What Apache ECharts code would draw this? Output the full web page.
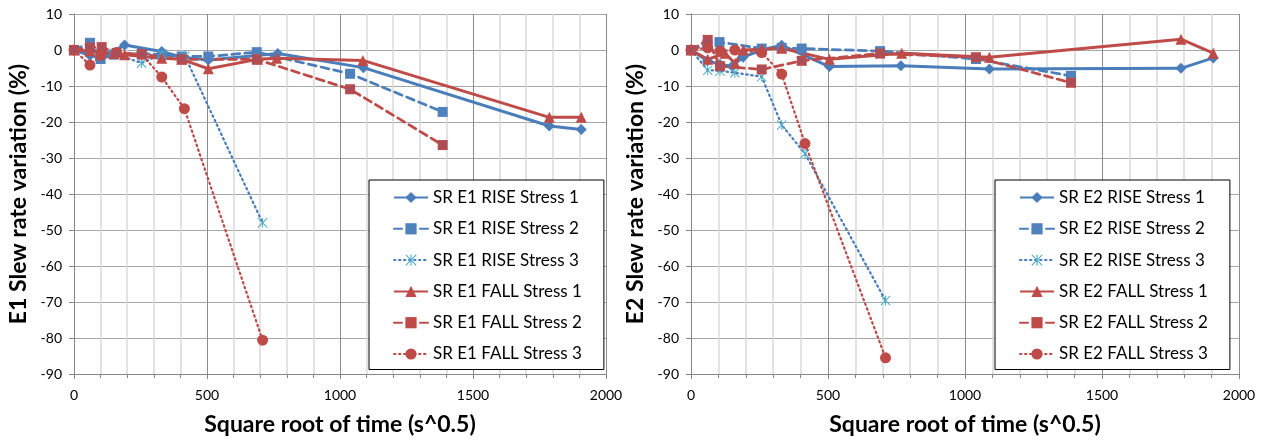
<!DOCTYPE html>
<html>
<head>
<meta charset="utf-8">
<script src="https://cdn.jsdelivr.net/npm/echarts@6/dist/echarts.min.js"></script>
<style>
  html, body { margin: 0; padding: 0; background: #fff; }
  #chart { width: 1265px; height: 441px; }
</style>
</head>
<body>
<div id="chart"></div>
<script>
// E1 (left chart) - [sqrt time, variation %]
const e1Rise1 = [[0, 0], [60, -1.5], [100, -2.2], [190, 1.4], [330, -0.4], [405, -2], [505, -2.8], [766, -1], [1088, -4.9], [1787, -21.1], [1907, -22.1]];
const e1Rise2 = [[0, 0], [60, 2], [100, -2.5], [150, -1.3], [255, -1], [330, -1.3], [405, -1.8], [505, -1.8], [687, -0.6], [1038, -6.6], [1386, -17.2]];
const e1Rise3 = [[0, 0], [60, -0.5], [100, -1], [150, -1], [254, -3.6], [330, -1.2], [417, -1.7], [709, -48]];
const e1Fall1 = [[0, 0], [60, -0.3], [100, -0.5], [150, -1], [190, -1.3], [330, -2.3], [405, -2.6], [505, -5.2], [690, -2.6], [762, -2.3], [1086, -2.9], [1787, -18.7], [1907, -18.7]];
const e1Fall2 = [[0, 0], [60, 0.7], [104, 0.8], [160, -0.8], [255, -1.2], [405, -2.6], [687, -2.6], [1038, -10.9], [1386, -26.4]];
const e1Fall3 = [[0, 0], [60, -4.2], [100, -1.5], [160, -0.7], [254, -1.2], [330, -7.5], [415, -16.3], [709, -80.6]];

// E2 (right chart)
const e2Rise1 = [[0, 0], [60, -3], [106, -4], [150, -4.5], [190, -2], [258, 0], [331, 1.3], [505, -4.6], [766, -4.4], [1089, -5.3], [1788, -5.1], [1906, -2.2]];
const e2Rise2 = [[0, 0], [60, 1.5], [104, 2.2], [258, 0.4], [331, 0.6], [404, 0.4], [690, -0.3], [1040, -2.5], [1387, -7.2]];
const e2Rise3 = [[0, 0], [61, -5.6], [106, -5.8], [160, -6.3], [258, -7.4], [331, -20.8], [416, -28.8], [710, -69.6]];
const e2Fall1 = [[0, 0], [61, -2.6], [124, -0.9], [161, -3.7], [191, 0], [258, 0.2], [331, 0.5], [505, -2.6], [769, -0.9], [1089, -2], [1788, 3], [1906, -0.9]];
const e2Fall2 = [[0, 0], [61, 2.8], [106, -4.5], [258, -5.4], [404, -3], [690, -1], [1040, -2], [1387, -9.1]];
const e2Fall3 = [[0, 0], [61, 0.6], [106, -0.3], [160, 0], [258, -0.7], [331, -6.7], [416, -26], [710, -85.5]];

const yTitles = ['E1 Slew rate variation (%)', 'E2 Slew rate variation (%)'];
const xTitle = 'Square root of time (s^0.5)';

const BLUE = '#4a7ebb';
const BLUE_MK = '#4f81bd';
const CYAN = '#4bacc6';
const RED = '#be4b48';
const FONT = 'Lato';

const STAR = 'path://M9,0L11,0L11,20L9,20Z M1.4,0L20,18.6L18.6,20L0,1.4Z M18.6,0L20,1.4L1.4,20L0,18.6Z';
const CROSS = 'path://M1,0L20,19L19,20L0,1Z M19,0L20,1L1,20L0,19Z';

function line(name, data, gi, color, mkColor, symbol, size, type, width) {
  return {
    name: name, type: 'line', xAxisIndex: gi, yAxisIndex: gi, data: data,
    symbol: symbol, symbolSize: size, showAllSymbol: true,
    lineStyle: { color: color, width: width, type: type, cap: type === 'solid' ? 'butt' : 'round' },
    itemStyle: { color: mkColor, borderWidth: 0 },
    emphasis: { disabled: true }
  };
}

function xAx(gi) {
  return {
    type: 'value', gridIndex: gi, min: 0, max: 2000, interval: 500,
    name: xTitle, nameLocation: 'middle', nameGap: 39,
    nameTextStyle: { fontFamily: FONT, fontWeight: 'bold', fontSize: 23, color: '#000' },
    axisLine: { onZero: false, lineStyle: { color: '#868686' } },
    axisTick: { show: true, length: 5, lineStyle: { color: '#868686' } },
    minorTick: { show: true, splitNumber: 5, length: 4, lineStyle: { color: '#868686' } },
    axisLabel: { fontFamily: FONT, fontSize: 14, color: '#000', margin: 14, formatter: (v) => String(v) },
    splitLine: { show: true, lineStyle: { color: '#8c8c8c' } },
    minorSplitLine: { show: true, lineStyle: { color: '#d9d9d9', width: 1.5 } }
  };
}

function yAx(gi) {
  return {
    type: 'value', gridIndex: gi, min: -90, max: 10, interval: 10,
    name: yTitles[gi], nameLocation: 'middle', nameGap: 44,
    nameTextStyle: { fontFamily: FONT, fontWeight: 'bold', fontSize: 23, color: '#000' },
    axisLine: { show: true, lineStyle: { color: '#868686' } },
    axisTick: { show: true, length: 5, lineStyle: { color: '#868686' } },
    axisLabel: { fontFamily: FONT, fontSize: 14, color: '#000', margin: 12 },
    splitLine: { show: true, lineStyle: { color: '#a6a6a6' } }
  };
}

function legend(gi, left, names) {
  return {
    orient: 'vertical', left: left, top: 180, data: names,
    backgroundColor: '#fff', borderColor: '#000', borderWidth: 1,
    padding: [9, 22, 7, 24], itemGap: 14.3, itemWidth: 34, itemHeight: 14,
    textStyle: { fontFamily: FONT, fontSize: 17, color: '#000' },
    selectedMode: false
  };
}

const n1 = ['SR E1 RISE Stress 1', 'SR E1 RISE Stress 2', 'SR E1 RISE Stress 3', 'SR E1 FALL Stress 1', 'SR E1 FALL Stress 2', 'SR E1 FALL Stress 3'];
const n2 = ['SR E2 RISE Stress 1', 'SR E2 RISE Stress 2', 'SR E2 RISE Stress 3', 'SR E2 FALL Stress 1', 'SR E2 FALL Stress 2', 'SR E2 FALL Stress 3'];

function seriesFor(gi, names, d) {
  const out = [
    line(names[0], d[0], gi, BLUE, BLUE, 'diamond', 11, 'solid', 3),
    line(names[1], d[1], gi, BLUE, BLUE_MK, 'rect', 10, [8, 5], 2.75),
    line(names[2], d[2], gi, BLUE, CYAN, STAR, 10, [1.5, 3.5], 2.25),
    line(names[3], d[3], gi, RED, RED, 'triangle', 11, 'solid', 3),
    line(names[4], d[4], gi, RED, RED, 'rect', 10, [8, 5], 2.75),
    line(names[5], d[5], gi, RED, RED, 'circle', 11, [1.5, 3.5], 2.25)
  ];
  // X mark drawn on top of the FALL Stress 2 squares
  out.push({
    name: 'x' + gi, type: 'scatter', xAxisIndex: gi, yAxisIndex: gi, data: d[4],
    symbol: CROSS, symbolSize: 9, itemStyle: { color: '#5b5ca6' }, z: 3,
    emphasis: { disabled: true }
  });
  return out;
}

const chart = echarts.init(document.getElementById('chart'), null, { renderer: 'canvas' });
chart.setOption({
  animation: false,
  backgroundColor: '#fff',
  grid: [
    { left: 74, right: 659, top: 14, bottom: 67 },
    { left: 691, right: 26, top: 14, bottom: 67 }
  ],
  xAxis: [xAx(0), xAx(1)],
  yAxis: [yAx(0), yAx(1)],
  legend: [legend(0, 369, n1), legend(1, 995, n2)],
  series: seriesFor(0, n1, [e1Rise1, e1Rise2, e1Rise3, e1Fall1, e1Fall2, e1Fall3])
    .concat(seriesFor(1, n2, [e2Rise1, e2Rise2, e2Rise3, e2Fall1, e2Fall2, e2Fall3]))
});
</script>
</body>
</html>
